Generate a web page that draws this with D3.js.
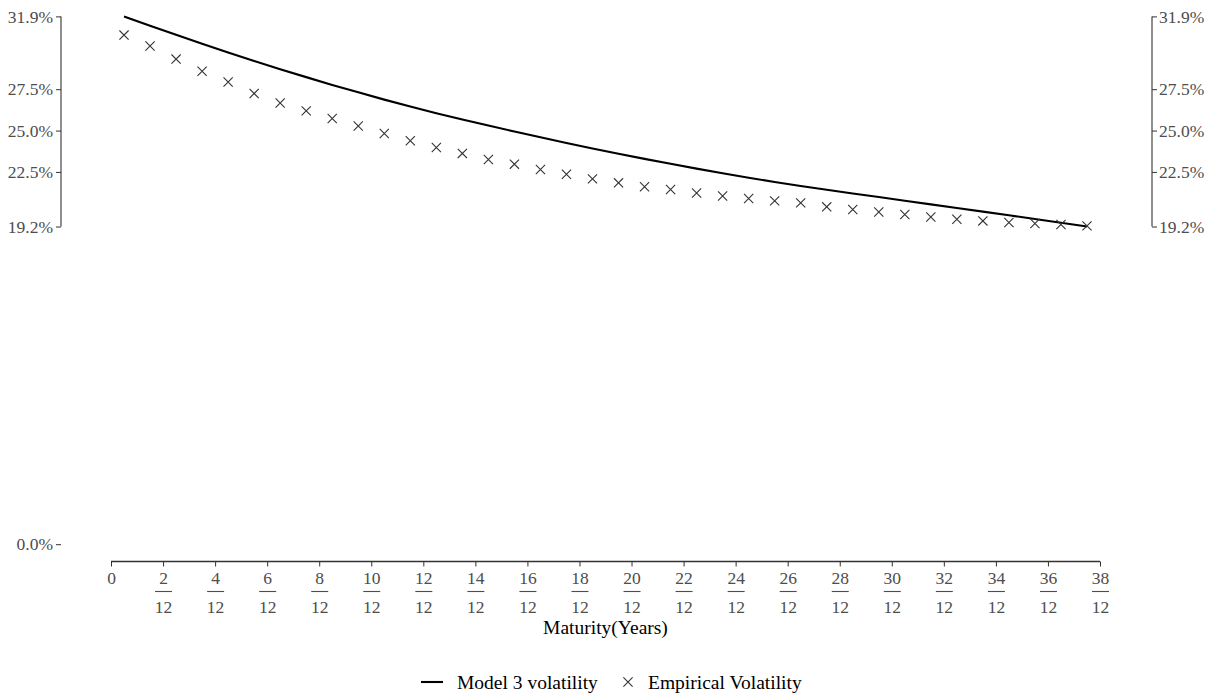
<!DOCTYPE html>
<html>
<head>
<meta charset="utf-8">
<script src="https://cdn.jsdelivr.net/npm/d3@7"></script>
<style>
  html, body { margin: 0; padding: 0; background: #fff; }
  svg { display: block; }
  text { font-family: "Liberation Serif", "Times New Roman", serif; }
</style>
</head>
<body>
<svg id="chart" width="1207" height="696"></svg>
<script>
// Maturities in months (x-axis shown as m/12 years)
const maturities = [0.5,1.5,2.5,3.5,4.5,5.5,6.5,7.5,8.5,9.5,10.5,11.5,12.5,13.5,14.5,15.5,16.5,17.5,18.5,19.5,
  20.5,21.5,22.5,23.5,24.5,25.5,26.5,27.5,28.5,29.5,30.5,31.5,32.5,33.5,34.5,35.5,36.5,37.5];
// Model 3 volatility (%)
const modelVol = [31.90,31.34,30.79,30.25,29.72,29.21,28.71,28.23,27.76,27.31,26.87,26.45,26.05,25.67,25.30,24.94,
  24.59,24.25,23.92,23.60,23.29,22.99,22.70,22.42,22.15,21.89,21.65,21.42,21.20,20.98,20.76,20.54,20.32,20.10,
  19.88,19.65,19.43,19.20];
// Empirical volatility (%)
const empiricalVol = [30.77,30.11,29.32,28.59,27.93,27.24,26.67,26.19,25.73,25.28,24.82,24.38,23.98,23.62,23.25,22.97,
  22.65,22.36,22.08,21.84,21.60,21.44,21.23,21.05,20.89,20.75,20.63,20.39,20.23,20.08,19.93,19.78,19.64,19.54,
  19.44,19.38,19.32,19.24];
// Axis ticks
const xTicks = [0,2,4,6,8,10,12,14,16,18,20,22,24,26,28,30,32,34,36,38];
const yTicks = [0, 19.2, 22.5, 25.0, 27.5, 31.9];
const xTitle = "Maturity(Years)";
const legendLabels = ["Model 3 volatility", "Empirical Volatility"];

const svg = d3.select("#chart");
const x = d3.scaleLinear().domain([0, 38]).range([111, 1100]);
const y = d3.scaleLinear().domain([0, 31.9]).range([544.2, 16.4]);
const gray = "#4d4d4d";
const tickFont = "17.5px";

// y axes (range frame)
const yMin = d3.min(yTicks.filter(d => d > 0)), yMax = d3.max(yTicks);
const leftX = 61, rightX = 1152;
svg.append("line").attr("x1", leftX).attr("x2", leftX).attr("y1", y(yMax)).attr("y2", y(yMin))
  .attr("stroke", "#333").attr("stroke-width", 1.1);
svg.append("line").attr("x1", rightX).attr("x2", rightX).attr("y1", y(yMax)).attr("y2", y(yMin))
  .attr("stroke", "#333").attr("stroke-width", 1.1);
const leftAxis = d3.axisLeft(y).tickValues(yTicks).tickSize(5).tickFormat(d => d.toFixed(1) + "%");
const gl = svg.append("g").attr("transform", `translate(${leftX},0)`).call(leftAxis);
gl.select(".domain").remove();
gl.selectAll(".tick line").attr("stroke", "#333");
gl.selectAll(".tick text").attr("fill", gray).style("font-size", tickFont)
  .style("font-family", "Liberation Serif").attr("x", -8);

const rightAxis = d3.axisRight(y).tickValues(yTicks.filter(d => d > 0)).tickSize(5).tickFormat(d => d.toFixed(1) + "%");
const gr = svg.append("g").attr("transform", `translate(${rightX},0)`).call(rightAxis);
gr.select(".domain").remove();
gr.selectAll(".tick line").attr("stroke", "#333");
gr.selectAll(".tick text").attr("fill", gray).style("font-size", tickFont)
  .style("font-family", "Liberation Serif").attr("x", 7);

// X axis
const axisY = 561.5;
const bottomAxis = d3.axisBottom(x).tickValues(xTicks).tickSize(5).tickFormat("");
const gb = svg.append("g").attr("transform", `translate(0,${axisY})`).call(bottomAxis);
gb.select(".domain").attr("d", `M${x(0)},0H${x(38)}`).attr("stroke", "#333").attr("stroke-width", 1.3);
gb.selectAll(".tick line").attr("stroke", "#333");
const tk = gb.selectAll(".tick");
tk.append("text").attr("y", 22).attr("text-anchor", "middle").attr("fill", gray)
  .style("font-size", tickFont).style("font-family", "Liberation Serif").text(d => d);
tk.filter(d => d !== 0).append("line").attr("x1", -8.5).attr("x2", 8.5).attr("y1", 30).attr("y2", 30)
  .attr("stroke", gray).attr("stroke-width", 1.1);
tk.filter(d => d !== 0).append("text").attr("y", 51).attr("text-anchor", "middle").attr("fill", gray)
  .style("font-size", tickFont).style("font-family", "Liberation Serif").text("12");

svg.append("text").attr("x", x(19)).attr("y", 634).attr("text-anchor", "middle")
  .style("font-size", "19.5px").attr("fill", "#000").text(xTitle);

// Model line
const line = d3.line().x((d, i) => x(maturities[i])).y(d => y(d));
svg.append("path").datum(modelVol).attr("d", line).attr("fill", "none")
  .attr("stroke", "#000").attr("stroke-width", 2.1);

// Empirical points (x shape)
const s = 4.6;
svg.append("g").selectAll("path").data(empiricalVol).join("path")
  .attr("d", (d, i) => {
    const cx = x(maturities[i]), cy = y(d);
    return `M${cx - s},${cy - s}L${cx + s},${cy + s}M${cx - s},${cy + s}L${cx + s},${cy - s}`;
  })
  .attr("stroke", "#333").attr("stroke-width", 1.1).attr("fill", "none");

// Legend
const ly = 682;
svg.append("line").attr("x1", 421).attr("x2", 443).attr("y1", ly).attr("y2", ly)
  .attr("stroke", "#000").attr("stroke-width", 2.1);
svg.append("text").attr("x", 457).attr("y", ly + 6.5).style("font-size", "19.5px").text(legendLabels[0]);
const lx = 628, ls = 4.6;
svg.append("path").attr("d", `M${lx - ls},${ly - ls}L${lx + ls},${ly + ls}M${lx - ls},${ly + ls}L${lx + ls},${ly - ls}`)
  .attr("stroke", "#333").attr("stroke-width", 1.1);
svg.append("text").attr("x", 648).attr("y", ly + 6.5).style("font-size", "19.5px").text(legendLabels[1]);
</script>
</body>
</html>
